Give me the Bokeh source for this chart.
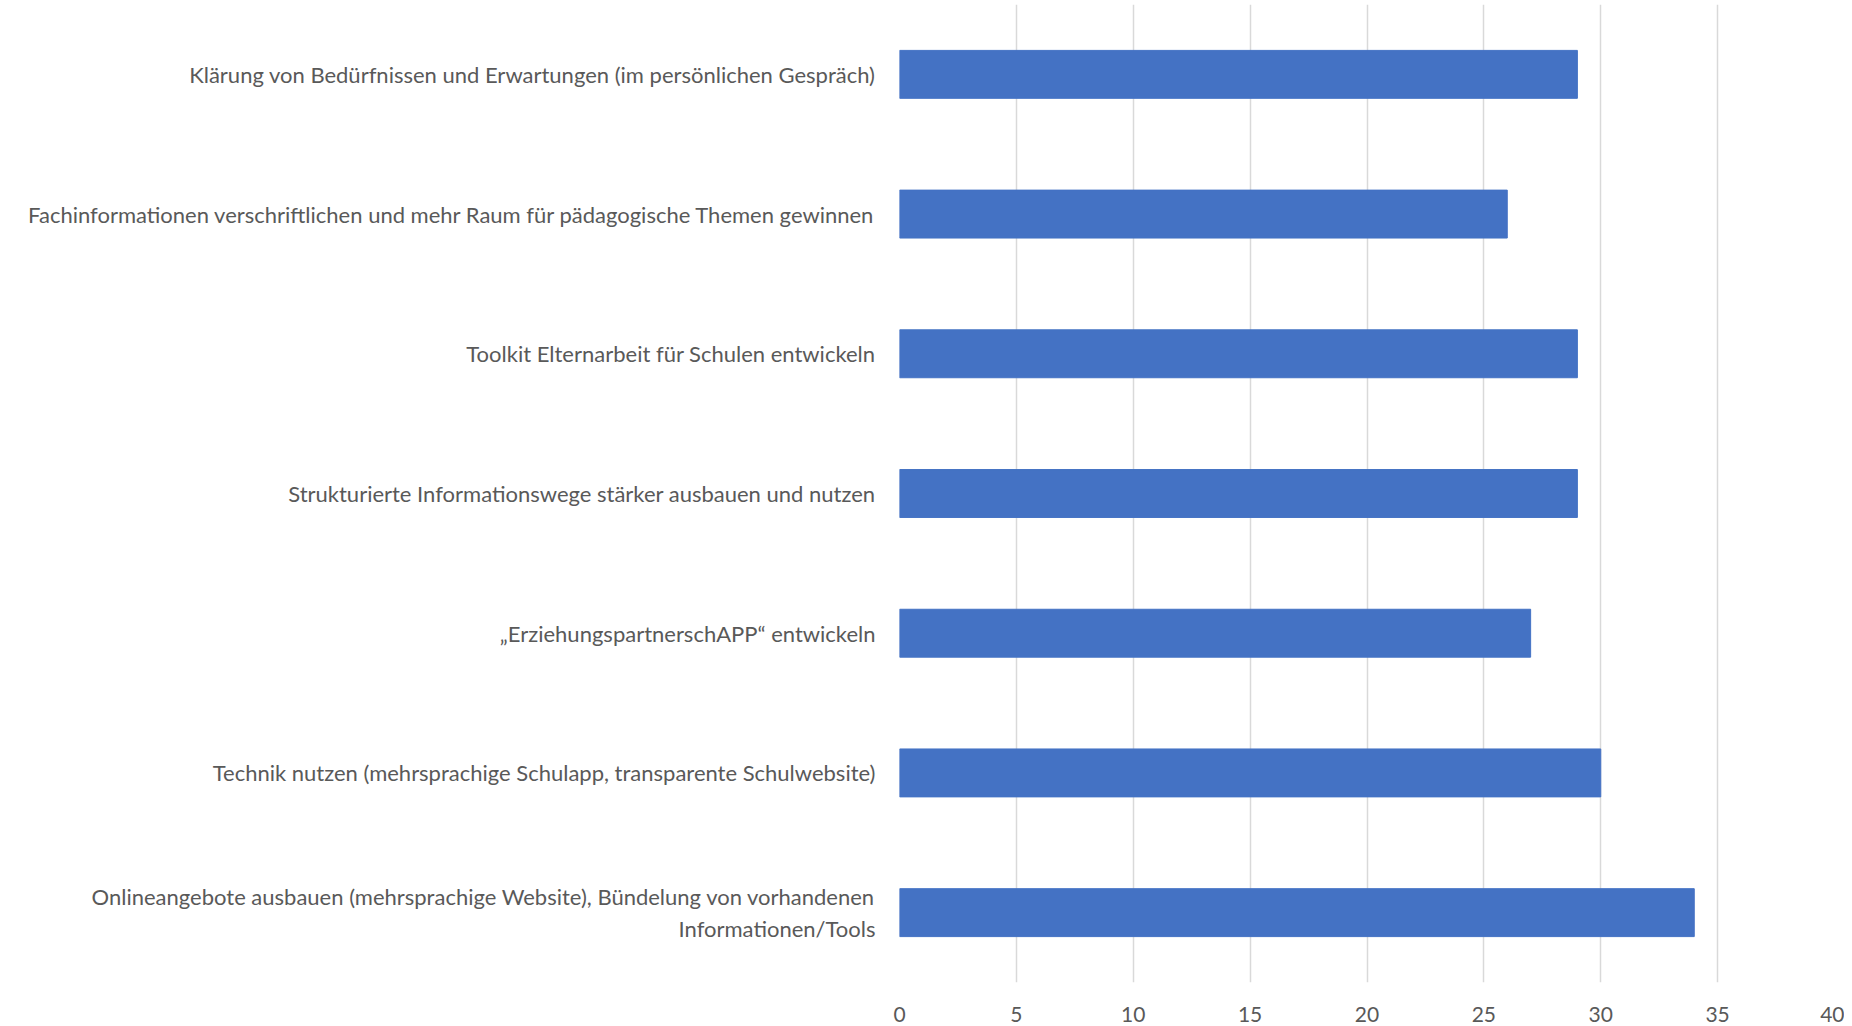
from bokeh.plotting import figure
from bokeh.models import FactorRange, Range1d, FixedTicker, Label
from bokeh.embed import file_html
from bokeh.resources import INLINE

categories = [
    "Klärung von Bedürfnissen und Erwartungen (im persönlichen Gespräch)",
    "Fachinformationen verschriftlichen und mehr Raum für pädagogische Themen gewinnen",
    "Toolkit Elternarbeit für Schulen entwickeln",
    "Strukturierte Informationswege stärker ausbauen und nutzen",
    "„ErziehungspartnerschAPP“ entwickeln",
    "Technik nutzen (mehrsprachige Schulapp, transparente Schulwebsite)",
    "Onlineangebote ausbauen (mehrsprachige Website), Bündelung von vorhandenen\nInformationen/Tools",
]
values = [29, 26, 29, 29, 27, 30, 34]
x_ticks = [0, 5, 10, 15, 20, 25, 30, 35, 40]

FONT = "Lato"
GREY = "#595959"
FS = "22px"

factors = list(reversed(categories))
p = figure(
    y_range=FactorRange(factors=factors, range_padding=0),
    x_range=Range1d(0, 40),
    width=1844, height=1024,
    output_backend="svg", toolbar_location=None,
    min_border_left=899, min_border_right=10, min_border_top=4, min_border_bottom=39,
)
p.outline_line_color = None
p.hbar(y=categories, right=values, left=0, height=0.343, color="#4472C4")

p.xgrid.ticker = FixedTicker(ticks=x_ticks)
p.xgrid.grid_line_color = "#d9d9d9"
p.xgrid.grid_line_width = 1.5
p.ygrid.grid_line_color = None

p.xaxis.ticker = FixedTicker(ticks=x_ticks)
p.xaxis.axis_line_color = None
p.xaxis.major_tick_line_color = None
p.xaxis.minor_tick_line_color = None
p.xaxis.major_label_standoff = 18
p.xaxis.major_label_text_font = FONT
p.xaxis.major_label_text_font_size = "21px"
p.xaxis.major_label_text_color = GREY

p.yaxis.axis_line_color = None
p.yaxis.major_tick_line_color = None
p.yaxis.minor_tick_line_color = None
p.yaxis.major_tick_out = 0
p.yaxis.major_label_standoff = 24
p.yaxis.major_label_text_font = FONT
p.yaxis.major_label_text_font_size = FS
p.yaxis.major_label_text_color = GREY

# the wrapped category label is centred in the original: draw it as a Label
wrapped = categories[-1]
p.yaxis.major_label_overrides = {wrapped: " "}
p.add_layout(Label(x=0, y=factors.index(wrapped) + 0.5, text=wrapped, x_offset=-434,
                   text_align="center", text_baseline="middle", text_font=FONT,
                   text_font_size=FS, text_color=GREY, text_line_height=1.2))

open("out.html", "w").write(file_html(p, INLINE))
